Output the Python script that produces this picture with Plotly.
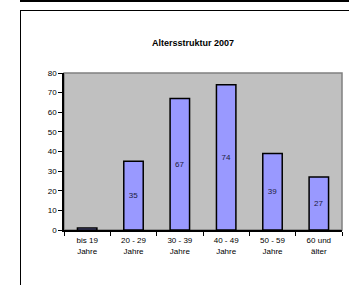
import plotly.graph_objects as go

categories = ["bis 19<br>Jahre", "20 - 29<br>Jahre", "30 - 39<br>Jahre",
              "40 - 49<br>Jahre", "50 - 59<br>Jahre", "60 und<br>älter"]
values = [1, 35, 67, 74, 39, 27]
title_text = "Altersstruktur 2007"

W, H = 349, 285
L, R, T, B = 64, 7, 73, 55

fig = go.Figure(go.Bar(
    x=categories, y=values,
    width=0.42,
    marker=dict(color="#9999FF", line=dict(color="#000000", width=1.5)),
    text=[str(v) for v in values],
    textposition="inside", insidetextanchor="middle",
    textfont=dict(family="Liberation Sans, Arial", size=8, color="#202040"),
    cliponaxis=False,
))

fig.update_layout(
    width=W, height=H,
    margin=dict(l=L, r=R, t=T, b=B),
    paper_bgcolor="white", plot_bgcolor="#C0C0C0",
    showlegend=False,
    uniformtext=dict(minsize=8, mode="hide"),
    font=dict(family="Liberation Sans, Arial", size=8, color="#000000"),
    title=dict(text="<b>" + title_text + "</b>", x=193 / W, xanchor="center",
               y=1 - 43 / H, yanchor="middle",
               font=dict(family="Liberation Sans, Arial", size=9, color="#000000")),
    xaxis=dict(showline=True, linecolor="#000000", linewidth=1.5,
               ticks="outside", tickson="boundaries", ticklen=4, tickcolor="#000000",
               tickwidth=1, showgrid=False, zeroline=False, fixedrange=True,
               ticklabelstandoff=2, tickfont=dict(size=8)),
    yaxis=dict(range=[0, 80], dtick=10, showline=True, linecolor="#000000", linewidth=1.5,
               ticks="outside", ticklen=4, tickcolor="#000000", tickwidth=1,
               showgrid=False, zeroline=False, tickfont=dict(size=8)),
    shapes=[
        dict(type="rect", xref="paper", yref="paper", x0=0, y0=0, x1=1, y1=1,
             line=dict(color="#808080", width=1.5), layer="below"),
    ],
)

post = """
document.documentElement.style.overflow='hidden';
document.body.style.margin='0';
document.body.style.overflow='hidden';
var a=document.createElement('div');
a.style.cssText='position:fixed;left:20px;top:0px;width:329px;height:0;border-top:2px solid #000;pointer-events:none;';
document.body.appendChild(a);
var b=document.createElement('div');
b.style.cssText='position:fixed;left:20px;top:10px;width:329px;height:275px;border-left:1.5px solid #000;border-top:1.5px solid #000;box-sizing:border-box;pointer-events:none;';
document.body.appendChild(b);
"""

fig.write_html("out.html", config={"displayModeBar": False}, post_script=post)
